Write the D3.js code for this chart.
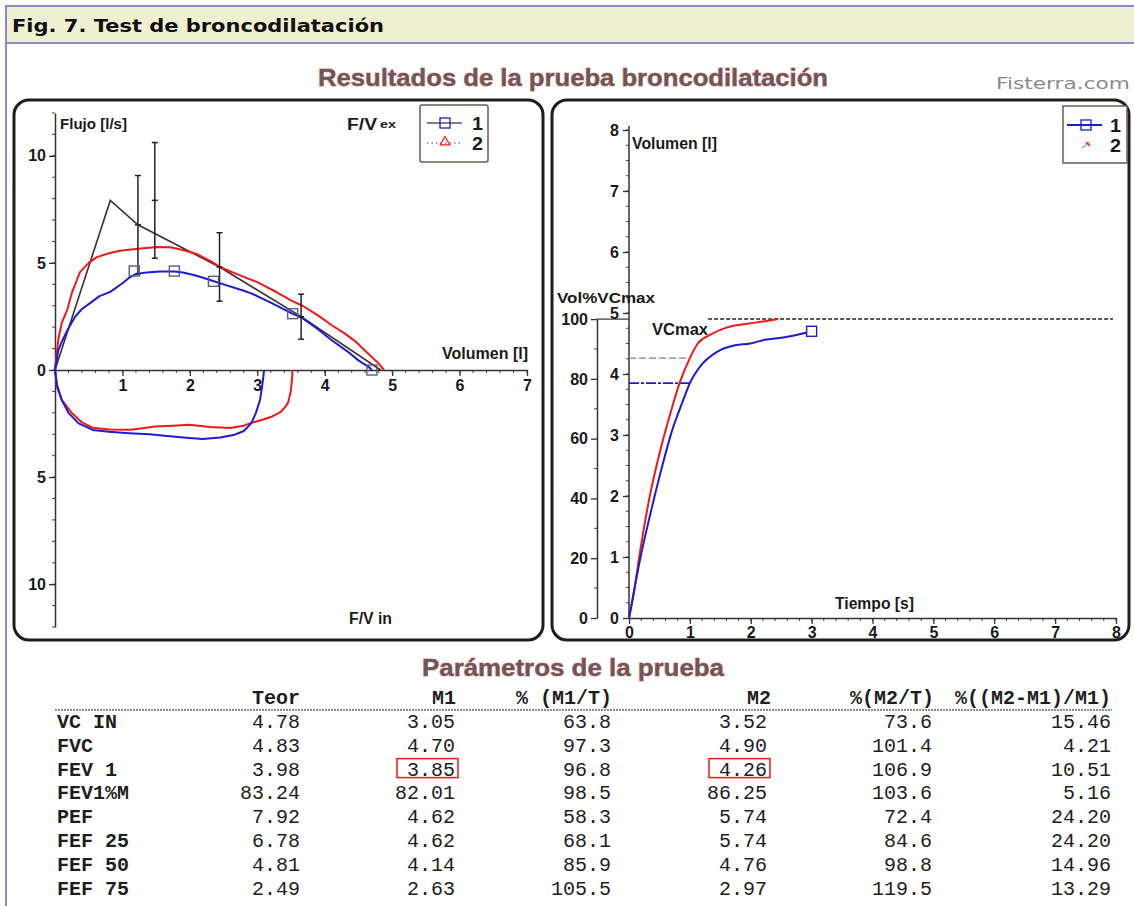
<!DOCTYPE html>
<html>
<head>
<meta charset="utf-8">
<script src="https://cdn.jsdelivr.net/npm/d3@7"></script>
<style>
  body { margin: 0; background: #fff; }
  svg { display: block; }
</style>
</head>
<body>
<svg id="chart" width="1134" height="906"></svg>
<script>
// ---------- Flow-volume data (volume in l, flow in l/s; inspiration negative) ----------
const fvM1Exp = [[0,0],[0.05,0.93],[0.12,1.45],[0.2,1.95],[0.3,2.5],[0.4,2.85],[0.51,3.1],[0.66,3.45],[0.82,3.65],[1.0,4.05],
  [1.11,4.33],[1.21,4.5],[1.4,4.56],[1.56,4.6],[1.77,4.6],[1.9,4.55],[2.1,4.4],[2.3,4.2],[2.5,4.0],
  [2.79,3.71],[2.91,3.58],[3.2,3.15],[3.52,2.63],[3.67,2.42],[3.9,1.9],[4.1,1.4],[4.34,0.86],
  [4.5,0.45],[4.65,0.15],[4.70,0]];
const fvM1Insp = [[0,0],[0.03,-0.7],[0.1,-1.4],[0.2,-2.0],[0.35,-2.49],[0.56,-2.8],[0.8,-2.88],
  [1.1,-2.95],[1.4,-3.0],[1.63,-3.07],[1.9,-3.15],[2.19,-3.22],[2.45,-3.15],[2.65,-3.04],[2.8,-2.85],
  [2.91,-2.49],[2.98,-2.0],[3.04,-1.4],[3.07,-0.8],[3.09,-0.31],[3.1,0]];
const fvM2Exp = [[0,0],[0.05,1.45],[0.1,2.2],[0.18,2.8],[0.25,3.6],[0.37,4.57],[0.5,5.0],[0.62,5.27],
  [0.8,5.45],[0.96,5.57],[1.2,5.65],[1.51,5.74],[1.71,5.73],[1.9,5.6],[2.1,5.42],[2.3,5.1],[2.45,4.8],
  [2.8,4.35],[3.0,4.1],[3.29,3.63],[3.5,3.25],[3.67,3.0],[3.9,2.55],[4.1,2.1],[4.3,1.7],[4.45,1.35],
  [4.6,0.9],[4.7,0.6],[4.8,0.3],[4.88,0]];
const fvM2Insp = [[0,0],[0.03,-0.8],[0.1,-1.4],[0.25,-2.01],[0.4,-2.45],[0.56,-2.7],[0.8,-2.78],
  [1.12,-2.79],[1.3,-2.72],[1.48,-2.64],[1.75,-2.6],[1.99,-2.56],[2.3,-2.66],[2.6,-2.71],[2.8,-2.6],
  [2.91,-2.47],[3.1,-2.3],[3.22,-2.17],[3.35,-1.95],[3.42,-1.71],[3.46,-1.5],[3.5,-0.93],[3.52,-0.23],[3.52,0]];
// predicted curve: origin, PEF, FEF25, FEF50, FEF75, FVC
const fvTheor = [[0,0],[0.82,7.92],[1.23,6.78],[2.44,4.81],[3.65,2.49],[4.83,0]];
// reference ranges around predicted values
const rangeVol  = [1.23, 1.48, 2.44, 3.65];
const rangeMid  = [6.78, 7.92, 4.81, 2.49];
const rangeHalf = [2.3, 2.7, 1.6, 1.05];
// measured points for test 1 (FEF25, PEF, FEF50, FEF75, FVC)
const m1PointVol  = [1.175, 1.77, 2.35, 3.525, 4.70];
const m1PointFlow = [4.62, 4.62, 4.14, 2.63, 0];

// ---------- Volume-time data (time in s, volume in l) ----------
const vtM1 = [[0,0],[0.1,0.54],[0.19,1.0],[0.34,1.66],[0.53,2.43],[0.71,3.08],[0.89,3.57],[1.0,3.85],
  [1.19,4.15],[1.44,4.36],[1.74,4.47],[1.99,4.5],[2.23,4.56],[2.53,4.6],[2.75,4.64],[3.0,4.70]];
const vtM2 = [[0,0],[0.07,0.35],[0.16,0.95],[0.34,1.99],[0.53,2.81],[0.71,3.46],[0.83,3.85],[1.0,4.26],
  [1.13,4.5],[1.33,4.64],[1.6,4.76],[1.99,4.83],[2.2,4.86],[2.45,4.90]];
const fev1M1 = 3.85, fev1M2 = 4.26, vcMax = 4.90;
const vcMaxSpan = [1.3, 7.95];

// ---------- Table ----------
const paramNames = ["VC IN","FVC","FEV 1","FEV1%M","PEF","FEF 25","FEF 50","FEF 75"];
const colHeads = ["Teor","M1","% (M1/T)","M2","%(M2/T)","%((M2-M1)/M1)"];
const teor  = [4.78, 4.83, 3.98, 83.24, 7.92, 6.78, 4.81, 2.49];
const m1    = [3.05, 4.70, 3.85, 82.01, 4.62, 4.62, 4.14, 2.63];
const pctM1 = [63.8, 97.3, 96.8, 98.5, 58.3, 68.1, 85.9, 105.5];
const m2    = [3.52, 4.90, 4.26, 86.25, 5.74, 5.74, 4.76, 2.97];
const pctM2 = [73.6, 101.4, 106.9, 103.6, 72.4, 84.6, 98.8, 119.5];
const pctDiff = [15.46, 4.21, 10.51, 5.16, 24.20, 24.20, 14.96, 13.29];
const highlightRow = "FEV 1";

const fvTicksX = [1,2,3,4,5,6,7];
const fvTicksY = [-10,-5,0,5,10];
const vtTicksX = [0,1,2,3,4,5,6,7,8];
const vtTicksY = [0,1,2,3,4,5,6,7,8];
const pctTicks = [0,20,40,60,80,100];

// ---------- drawing ----------
const svg = d3.select("#chart");
const SANS = "'Liberation Sans', Arial, sans-serif";
const MONO = "'Liberation Mono', 'Courier New', monospace";
const BLUE = "#1c1cd6", RED = "#f21818";

// page frame and caption bar
svg.append("line").attr("x1",6).attr("x2",6).attr("y1",6).attr("y2",906)
  .attr("stroke","#8a8ac8").attr("stroke-width",2);
svg.append("rect").attr("x",6).attr("y",6).attr("width",1140).attr("height",37)
  .attr("fill","#efefd2").attr("stroke","#8a8ac8").attr("stroke-width",2);
svg.append("text").attr("x",12).attr("y",32)
  .attr("font-family","'DejaVu Sans', Verdana, sans-serif").attr("font-weight","bold")
  .attr("font-size",17.5).attr("textLength",372).attr("lengthAdjust","spacingAndGlyphs")
  .attr("fill","#111").text("Fig. 7. Test de broncodilatación");

function heading(txt, cx, y, w, size) {
  svg.append("text").attr("x",cx).attr("y",y).attr("text-anchor","middle")
    .attr("font-family",SANS).attr("font-weight","bold").attr("font-size",size)
    .attr("textLength",w).attr("lengthAdjust","spacingAndGlyphs")
    .attr("fill","#6c5858").attr("stroke","rgba(230,30,30,0.55)").attr("stroke-width",0.9)
    .attr("paint-order","stroke").text(txt);
}
heading("Resultados de la prueba broncodilatación", 573, 86, 510, 23);
heading("Parámetros de la prueba", 573, 676, 302, 23);
svg.append("text").attr("x",1130).attr("y",89).attr("text-anchor","end")
  .attr("font-family","'DejaVu Sans', Verdana, sans-serif").attr("font-size",16.5)
  .attr("textLength",134).attr("lengthAdjust","spacingAndGlyphs")
  .attr("fill","#8a8a8a").text("Fisterra.com");

// panel frames
[[14,100,529,540],[552,100,577,540]].forEach(([x,y,w,h]) => {
  svg.append("rect").attr("x",x).attr("y",y).attr("width",w).attr("height",h).attr("rx",15)
    .attr("fill","#fff").attr("stroke","#1e1e1e").attr("stroke-width",3);
});

function label(g, txt, x, y, w, size, anchor) {
  return g.append("text").attr("x",x).attr("y",y).attr("text-anchor",anchor || "start")
    .attr("font-family",SANS).attr("font-weight","bold").attr("font-size",size)
    .attr("textLength",w).attr("lengthAdjust","spacingAndGlyphs").attr("fill","#1a1a1a").text(txt);
}
function styleAxis(sel, size) {
  sel.select(".domain").attr("stroke","#333").attr("stroke-width",1.5);
  sel.selectAll(".tick line").attr("stroke","#333").attr("stroke-width",1.3);
  sel.selectAll(".tick text").attr("font-family",SANS).attr("font-weight","bold")
    .attr("font-size",size).attr("fill","#1a1a1a");
}
function minorTicks(g, values, pos, fixed, len, orient) {
  g.selectAll(null).data(values).join("line")
    .attr("x1", d => orient === "x" ? pos(d) : fixed)
    .attr("x2", d => orient === "x" ? pos(d) : fixed - len)
    .attr("y1", d => orient === "x" ? fixed : pos(d))
    .attr("y2", d => orient === "x" ? fixed + len : pos(d))
    .attr("stroke","#444").attr("stroke-width",1);
}

// ===== Left panel: flow-volume loops =====
const xL = d3.scaleLinear().domain([0,7]).range([55,527]);
const yL = d3.scaleLinear().domain([-12,12]).range([627,113]);
const gL = svg.append("g");

minorTicks(gL, d3.range(0.2,7.01,0.2), xL, yL(0), 3, "x");
minorTicks(gL, d3.range(-12,12.01,1), yL, xL(0), 3, "y");
const axXL = gL.append("g").attr("transform",`translate(0,${yL(0)})`)
  .call(d3.axisBottom(xL).tickValues(fvTicksX).tickFormat(d3.format("d")).tickSize(6).tickSizeOuter(0).tickPadding(4));
styleAxis(axXL, 16);
const axYL = gL.append("g").attr("transform",`translate(${xL(0)},0)`)
  .call(d3.axisLeft(yL).tickValues(fvTicksY).tickFormat(d => Math.abs(d)).tickSize(6).tickSizeOuter(0).tickPadding(3));
styleAxis(axYL, 16);

const lineL = d3.line().x(d => xL(d[0])).y(d => yL(d[1]));
gL.append("path").datum(fvTheor).attr("d",lineL).attr("fill","none").attr("stroke","#3a3030").attr("stroke-width",1.6);
[[fvM2Exp,RED],[fvM2Insp,RED],[fvM1Exp,BLUE],[fvM1Insp,BLUE]].forEach(([d,c]) => {
  gL.append("path").datum(d).attr("d",lineL).attr("fill","none").attr("stroke",c)
    .attr("stroke-width",2).attr("stroke-linejoin","round");
});

// reference ranges
const bars = gL.selectAll(null).data(rangeVol.map((v,i) => ({v, m: rangeMid[i], h: rangeHalf[i]}))).join("g");
bars.append("line").attr("x1",d => xL(d.v)).attr("x2",d => xL(d.v))
  .attr("y1",d => yL(d.m + d.h)).attr("y2",d => yL(d.m - d.h)).attr("stroke","#222").attr("stroke-width",1.5);
[d => d.m + d.h, d => d.m - d.h, d => d.m].forEach(f => {
  bars.append("line").attr("x1",d => xL(d.v) - 3).attr("x2",d => xL(d.v) + 3)
    .attr("y1",d => yL(f(d))).attr("y2",d => yL(f(d))).attr("stroke","#222").attr("stroke-width",1.5);
});

// measured points, test 1
gL.selectAll(null).data(m1PointVol.map((v,i) => [v, m1PointFlow[i]])).join("rect")
  .attr("x",d => xL(d[0]) - 5).attr("y",d => yL(d[1]) - 5).attr("width",10).attr("height",10)
  .attr("fill","none").attr("stroke","#55608a").attr("stroke-width",1.4);

label(gL, "Flujo [l/s]", 60, 129, 67, 15);
label(gL, "Volumen [l]", 442, 359, 86, 16);
label(gL, "F/V", 347, 130, 30, 16);
label(gL, "ex", 380, 128, 16, 11);
label(gL, "F/V in", 349, 624, 43, 16);

// legend, left
const lgL = gL.append("g");
lgL.append("rect").attr("x",420).attr("y",105).attr("width",68).attr("height",57).attr("rx",2)
  .attr("fill","#fff").attr("stroke","#6b5a55").attr("stroke-width",1.5);
lgL.append("line").attr("x1",427).attr("x2",462).attr("y1",123).attr("y2",123).attr("stroke","#555").attr("stroke-width",1.5);
lgL.append("rect").attr("x",440).attr("y",118).attr("width",10).attr("height",10).attr("fill","none").attr("stroke",BLUE).attr("stroke-width",1.3);
lgL.append("line").attr("x1",427).attr("x2",462).attr("y1",143).attr("y2",143).attr("stroke","#888").attr("stroke-width",1.3).attr("stroke-dasharray","1.5,3");
lgL.append("path").attr("d",d3.symbol(d3.symbolTriangle,40)()).attr("transform","translate(445,142)")
  .attr("fill","none").attr("stroke",RED).attr("stroke-width",1.2);
label(lgL, "1", 472, 130, 11, 19);
label(lgL, "2", 472, 150, 11, 19);

// ===== Right panel: volume-time curves =====
const xR = d3.scaleLinear().domain([0,8]).range([629,1116]);
const yR = d3.scaleLinear().domain([0,8]).range([618,130]);
const yP = d3.scaleLinear().domain([0,100]).range([618, yR(vcMax)]);
const pctAxisX = 597;
const gR = svg.append("g");

minorTicks(gR, d3.range(0.2,8.01,0.2), xR, yR(0), 3, "x");
minorTicks(gR, d3.range(0.25,8.01,0.25), yR, xR(0), 3, "y");
minorTicks(gR, d3.range(10,100,20), yP, pctAxisX, 3, "y");
const axXR = gR.append("g").attr("transform",`translate(0,${yR(0)})`)
  .call(d3.axisBottom(xR).tickValues(vtTicksX).tickSize(6).tickSizeOuter(0).tickPadding(3));
styleAxis(axXR, 16);
const axYR = gR.append("g").attr("transform",`translate(${xR(0)},0)`)
  .call(d3.axisLeft(yR).tickValues(vtTicksY).tickSize(6).tickSizeOuter(0).tickPadding(4));
styleAxis(axYR, 16);
axYR.select(".domain").attr("d", `M0,${yR(8) - 4}V${yR(0)}`);
const axP = gR.append("g").attr("transform",`translate(${pctAxisX},0)`)
  .call(d3.axisLeft(yP).tickValues(pctTicks).tickSize(6).tickSizeOuter(0).tickPadding(3));
styleAxis(axP, 16);
gR.append("line").attr("x1",pctAxisX).attr("x2",xR(0)).attr("y1",yP(100)).attr("y2",yP(100))
  .attr("stroke","#333").attr("stroke-width",1.2);

// VCmax reference
gR.append("line").attr("x1",xR(vcMaxSpan[0])).attr("x2",xR(vcMaxSpan[1]))
  .attr("y1",yR(vcMax)).attr("y2",yR(vcMax)).attr("stroke","#222").attr("stroke-width",1.5)
  .attr("stroke-dasharray","4,2");
// FEV1 markers
gR.append("line").attr("x1",xR(0)).attr("x2",xR(1)).attr("y1",yR(fev1M2)).attr("y2",yR(fev1M2))
  .attr("stroke","#b07070").attr("stroke-width",1.4).attr("stroke-dasharray","7,3");
gR.append("line").attr("x1",xR(0)).attr("x2",xR(1)).attr("y1",yR(fev1M1)).attr("y2",yR(fev1M1))
  .attr("stroke",BLUE).attr("stroke-width",1.6).attr("stroke-dasharray","10,2,3,2");

const lineR = d3.line().x(d => xR(d[0])).y(d => yR(d[1])).curve(d3.curveMonotoneX);
gR.append("path").datum(vtM2).attr("d",lineR).attr("fill","none").attr("stroke",RED).attr("stroke-width",2);
gR.append("path").datum(vtM1).attr("d",lineR).attr("fill","none").attr("stroke",BLUE).attr("stroke-width",2);
const endM1 = vtM1[vtM1.length - 1];
gR.append("rect").attr("x",xR(endM1[0]) - 5).attr("y",yR(endM1[1]) - 5).attr("width",10).attr("height",10)
  .attr("fill","#fff").attr("stroke",BLUE).attr("stroke-width",1.4);

label(gR, "Volumen [l]", 632, 149, 85, 16);
label(gR, "Vol%VCmax", 557, 303, 98, 15);
label(gR, "VCmax", 652, 335, 56, 16);
label(gR, "Tiempo [s]", 835, 609, 79, 16);

// legend, right
const lgR = gR.append("g");
lgR.append("rect").attr("x",1063).attr("y",106).attr("width",64).attr("height",57)
  .attr("fill","#fff").attr("stroke","#6b5a55").attr("stroke-width",1.5);
lgR.append("line").attr("x1",1067).attr("x2",1102).attr("y1",125).attr("y2",125).attr("stroke",BLUE).attr("stroke-width",2);
lgR.append("rect").attr("x",1081).attr("y",120).attr("width",10).attr("height",10).attr("fill","none").attr("stroke",BLUE).attr("stroke-width",1.3);
lgR.append("line").attr("x1",1082).attr("x2",1090).attr("y1",148).attr("y2",142).attr("stroke","#999").attr("stroke-width",1.2);
lgR.append("line").attr("x1",1086).attr("x2",1090).attr("y1",142).attr("y2",146).attr("stroke",RED).attr("stroke-width",1.5);
label(lgR, "1", 1110, 132, 11, 19);
label(lgR, "2", 1110, 152, 11, 19);

// ===== Parameter table =====
const gT = svg.append("g");
const colRight = [300, 455, 611, 767, 932, 1111];
const headRight = [300, 456, 612, 771, 934, 1111];
const columns = [
  {vals: teor, fmt: d3.format(".2f")},
  {vals: m1, fmt: d3.format(".2f")},
  {vals: pctM1, fmt: d3.format(".1f")},
  {vals: m2, fmt: d3.format(".2f")},
  {vals: pctM2, fmt: d3.format(".1f")},
  {vals: pctDiff, fmt: d3.format(".2f")}
];
const rowY = i => 728 + i * 23.8;
function monoText(txt, x, y, anchor, bold) {
  gT.append("text").attr("x",x).attr("y",y).attr("text-anchor",anchor).attr("font-family",MONO)
    .attr("font-weight",bold ? "bold" : "normal").attr("font-size",20)
    .attr("fill","#1e1e1e").text(txt);
}
colHeads.forEach((h,j) => monoText(h, headRight[j], 704, "end", true));
gT.append("line").attr("x1",55).attr("x2",1112).attr("y1",710).attr("y2",710)
  .attr("stroke","#666").attr("stroke-width",1.5).attr("stroke-dasharray","2,1");
paramNames.forEach((name,i) => {
  monoText(name, 57, rowY(i), "start", true);
  columns.forEach((c,j) => monoText(c.fmt(c.vals[i]), colRight[j], rowY(i), "end", false));
});
// highlight FEV1 of both tests
const hi = paramNames.indexOf(highlightRow);
[1,3].forEach(j => {
  gT.append("rect").attr("x",colRight[j] - 58).attr("y",rowY(hi) - 17).attr("width",61).attr("height",19)
    .attr("fill","none").attr("stroke",RED).attr("stroke-width",1.5);
});
</script>
</body>
</html>
